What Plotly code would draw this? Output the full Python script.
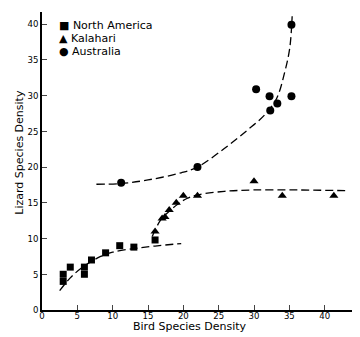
import plotly.graph_objects as go

# North America (squares)
na_x = [3, 3, 4, 6, 6, 7, 9, 11, 13, 16]
na_y = [5, 4, 6, 6, 5, 7, 8, 9, 8.8, 9.8]
# Kalahari (triangles)
ka_x = [16, 17, 17.4, 18, 19, 20, 22, 30, 34, 41.3]
ka_y = [11, 12.8, 13, 14, 15, 16, 16, 18, 16, 16]
# Australia (circles)
au_x = [11.2, 22, 30.3, 32.2, 33.3, 32.3, 35.3, 35.3]
au_y = [17.8, 20, 30.9, 29.9, 28.9, 27.9, 29.9, 39.9]

# Dashed fitted curves
na_fit_x = [2.5, 4, 5.9, 8.3, 10, 13, 16, 19.7]
na_fit_y = [2.7, 4.5, 6.1, 7.5, 8.1, 8.6, 8.95, 9.3]
ka_fit_x = [15.6, 16.8, 18, 19.2, 20.5, 22, 25.8, 30, 36, 42.9]
ka_fit_y = [10.3, 12.6, 13.8, 14.8, 15.6, 16.1, 16.6, 16.8, 16.8, 16.7]
au_fit_x = [7.7, 11.2, 15, 19.7, 22, 25.8, 29.1, 31.5, 33.2, 34.3, 35.05, 35.4]
au_fit_y = [17.6, 17.7, 18.2, 19.2, 20, 22.6, 25.2, 27.3, 29.6, 33.1, 36.6, 41.1]

x_ticks = [0, 5, 10, 15, 20, 25, 30, 35, 40, 45]
y_ticks = [0, 5, 10, 15, 20, 25, 30, 35, 40]

legend_labels = ["\u25A0 North America", "\u25B2 Kalahari", "\u25CF Australia"]

tick_family = "DejaVu Sans Condensed, DejaVu Sans, sans-serif"
text_family = "DejaVu Sans, sans-serif"
dash = "8px,4px"

fig = go.Figure()
for fx, fy in [(na_fit_x, na_fit_y), (ka_fit_x, ka_fit_y), (au_fit_x, au_fit_y)]:
    fig.add_trace(go.Scatter(x=fx, y=fy, mode="lines",
                             line=dict(color="black", width=1.3, dash=dash, shape="spline", smoothing=1.0),
                             showlegend=False, hoverinfo="skip"))

fig.add_trace(go.Scatter(x=na_x, y=na_y, mode="markers", name="North America",
                         marker=dict(symbol="square", size=7, color="black")))
fig.add_trace(go.Scatter(x=ka_x, y=ka_y, mode="markers", name="Kalahari",
                         marker=dict(symbol="triangle-up", size=8, color="black")))
fig.add_trace(go.Scatter(x=au_x, y=au_y, mode="markers", name="Australia",
                         marker=dict(symbol="circle", size=8, color="black")))

# Legend as text annotations
for i, lab in enumerate(legend_labels):
    fig.add_annotation(x=0.048, y=0.956 - i * 0.045, xref="paper", yref="paper",
                       text=lab, showarrow=False, xanchor="left", yanchor="middle",
                       font=dict(size=11, family=text_family))

# Axis titles as annotations
fig.add_annotation(x=0.465, y=-0.057, xref="paper", yref="paper", text="Bird Species Density",
                   showarrow=False, xanchor="center", yanchor="middle", font=dict(size=11, family=text_family))
fig.add_annotation(x=-0.069, y=0.528, xref="paper", yref="paper", text="Lizard Species Density",
                   showarrow=False, xanchor="center", yanchor="middle", textangle=-90,
                   font=dict(size=11, family=text_family))

fig.update_layout(
    width=352, height=329,
    margin=dict(l=34, r=0, t=4, b=27),
    paper_bgcolor="white", plot_bgcolor="white",
    showlegend=False,
    font=dict(family=tick_family, color="black", size=10),
    xaxis=dict(range=[0, 45], tickvals=x_ticks, ticks="inside", ticklen=5, tickwidth=1,
               showline=True, linecolor="black", linewidth=1.5, showgrid=False, zeroline=False,
               tickfont=dict(size=9.5), automargin=False, ticklabelstandoff=-4),
    yaxis=dict(range=[0, 41.7], tickvals=y_ticks, ticks="inside", ticklen=5, tickwidth=1,
               showline=True, linecolor="black", linewidth=1.5, showgrid=False, zeroline=False,
               tickfont=dict(size=9.5), automargin=False),
)

fig.write_html("out.html")
